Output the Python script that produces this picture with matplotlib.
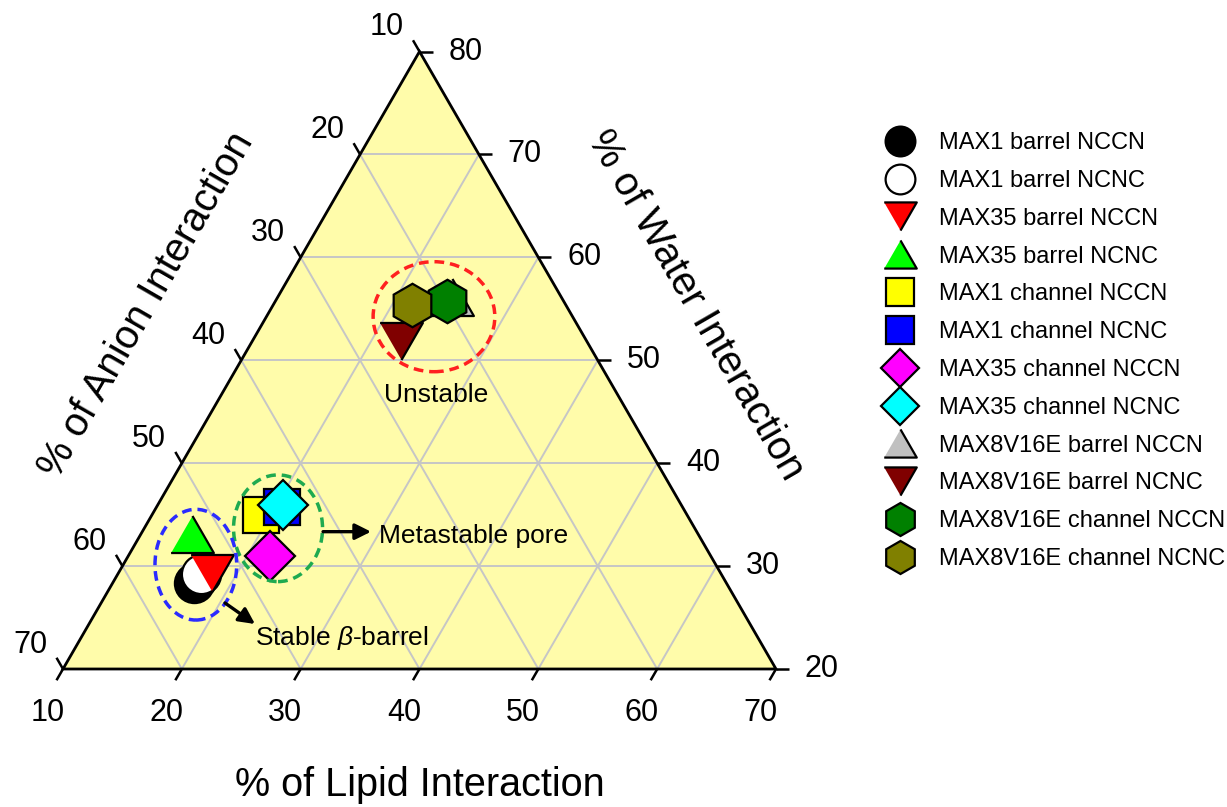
import numpy as np
import matplotlib
matplotlib.use("Agg")
import matplotlib.pyplot as plt
from matplotlib.patches import Polygon, Ellipse

plt.rcParams['font.family'] = ['Liberation Sans', 'DejaVu Sans']
plt.rcParams['mathtext.fontset'] = 'custom'
plt.rcParams['mathtext.rm'] = 'Liberation Sans'
plt.rcParams['mathtext.it'] = 'Liberation Sans:italic'

# ---- data: percentages of lipid / anion / water interaction ----
series = ["MAX1 barrel NCCN", "MAX1 barrel NCNC",
          "MAX35 barrel NCCN", "MAX35 barrel NCNC",
          "MAX1 channel NCCN", "MAX1 channel NCNC",
          "MAX35 channel NCCN", "MAX35 channel NCNC",
          "MAX8V16E barrel NCCN", "MAX8V16E barrel NCNC",
          "MAX8V16E channel NCCN", "MAX8V16E channel NCNC"]
lipid = [16.8, 17.0, 17.9, 14.3, 19.2, 20.6, 21.9, 20.6, 24.7, 22.5, 24.4, 21.7]
anion = [54.8, 53.8, 52.8, 52.6, 45.8, 43.7, 47.1, 43.5, 19.2, 25.6, 19.8, 22.9]
water = [28.4, 29.2, 29.3, 33.1, 35.0, 35.7, 31.0, 35.9, 56.1, 51.9, 55.8, 55.4]

# axis ranges (each spans 60 %)
lipid_ticks = [10, 20, 30, 40, 50, 60, 70]
anion_ticks = [10, 20, 30, 40, 50, 60, 70]
water_ticks = [80, 70, 60, 50, 40, 30, 20]
LIP0, ANI0, WAT0, SPAN = 10, 10, 20, 60

# ---- styles ----
tri_up = [(-1, -0.866), (1, -0.866), (0, 0.866)]
tri_dn = [(-1, 0.866), (1, 0.866), (0, -0.866)]
markers = ['o', 'o', tri_dn, tri_up, 's', 's', 'D', 'D', tri_up, tri_dn, 'h', 'h']
colors = ['black', 'white', '#ff0000', '#00ff00', '#ffff00', '#0000ff',
          '#ff00ff', '#00ffff', '#c0c0c0', '#800000', '#008000', '#808000']
sizes = [28.2, 28.2, 30.8, 30.8, 26.3, 26.3, 25, 25, 30.8, 30.8, 31.3, 31.3]

H = np.sqrt(3) / 2


def tern(l, a, w):
    """Ternary (lipid, anion, water) -> cartesian in a unit triangle."""
    fa = (np.asarray(l, float) - LIP0) / SPAN
    fb = (np.asarray(a, float) - ANI0) / SPAN
    fc = (np.asarray(w, float) - WAT0) / SPAN
    s = fa + fb + fc
    return (fa + 0.5 * fc) / s, H * fc / s


fig = plt.figure(figsize=(12.27, 8.07), dpi=100)
ax = fig.add_axes([0, 0, 1, 1])
ax.set_xlim(-63 / 713, 1164 / 713)
ax.set_ylim(-138 / 713, 669 / 713)
ax.axis('off')

# background triangle
ax.add_patch(Polygon([(0, 0), (1, 0), (0.5, H)], closed=True,
                     facecolor='#fffcaa', edgecolor='none', zorder=0))

# grid
gkw = dict(color='#c6c6c6', lw=1.4, zorder=1)
for v in lipid_ticks[1:-1]:
    x0, y0 = tern(v, 100 - v - WAT0, WAT0)
    x1, y1 = tern(v, ANI0, 100 - v - ANI0)
    ax.plot([x0, x1], [y0, y1], **gkw)
for v in anion_ticks[1:-1]:
    x0, y0 = tern(100 - v - WAT0, v, WAT0)
    x1, y1 = tern(LIP0, v, 100 - v - LIP0)
    ax.plot([x0, x1], [y0, y1], **gkw)
for v in water_ticks[1:-1]:
    x0, y0 = tern(LIP0, 100 - v - LIP0, v)
    x1, y1 = tern(100 - v - ANI0, ANI0, v)
    ax.plot([x0, x1], [y0, y1], **gkw)

# outline
ax.add_patch(Polygon([(0, 0), (1, 0), (0.5, H)], closed=True,
                     facecolor='none', edgecolor='black', lw=2.0, zorder=3))

# ticks and tick labels
TL = 13 / 713
tkw = dict(color='black', lw=1.8, zorder=3, solid_capstyle='butt')
lab_kw = dict(textcoords='offset points', ha='center', va='center', fontsize=22)
for v in lipid_ticks:
    x, y = tern(v, 100 - v - WAT0, WAT0)
    ax.plot([x, x - 0.5 * TL], [y, y - H * TL], **tkw)
    ax.annotate(str(v), (x, y), xytext=(-11, -31.7), **lab_kw)
for v in anion_ticks:
    x, y = tern(LIP0, v, 100 - v - LIP0)
    ax.plot([x, x - 0.5 * TL], [y, y + H * TL], **tkw)
    ax.annotate(str(v), (x, y), xytext=(-23.8, 17.5), **lab_kw)
for v in water_ticks:
    x, y = tern(100 - v - ANI0, ANI0, v)
    ax.plot([x, x + TL], [y, y], **tkw)
    ax.annotate(str(v), (x, y), xytext=(33.0, 0), **lab_kw)

# axis titles
ax.text(0.5007, -0.1627, "% of Lipid Interaction", fontsize=28.5,
        ha='center', va='center')
ax.text(0.117, 0.5105, "% of Anion Interaction", fontsize=29,
        ha='center', va='center', rotation=60, rotation_mode='anchor')
ax.text(0.888, 0.5105, "% of Water Interaction", fontsize=29,
        ha='center', va='center', rotation=-60, rotation_mode='anchor')

# data points
X, Y = tern(lipid, anion, water)
for i, name in enumerate(series):
    ax.plot(X[i], Y[i], linestyle='none', marker=markers[i], ms=sizes[i],
            mfc=colors[i], mec='black', mew=1.6, label=name, zorder=5 + i)

# cluster outlines
dash = (0, (2.8, 1.7))
elw = 2.5
ax.add_patch(Ellipse((0.5203, 0.4941), 121.7 / 713, 110 / 713, fill=False,
                     edgecolor='#ff2020', lw=elw, linestyle=dash, zorder=20))
ax.add_patch(Ellipse((0.3016, 0.1974), 89 / 713, 106.7 / 713, fill=False,
                     edgecolor='#1eaa50', lw=elw, linestyle=dash, zorder=20))
ax.add_patch(Ellipse((0.1863, 0.1463), 81.7 / 713, 110.7 / 713, fill=False,
                     edgecolor='#2b2bff', lw=elw, linestyle=dash, zorder=20))

# annotations
akw = dict(arrowstyle='-|>', color='black', lw=2.4, mutation_scale=24,
           shrinkA=0, shrinkB=0)
ax.text(0.5231, 0.3843, "Unstable", fontsize=19, ha='center', va='center',
        zorder=21)
ax.annotate('', xy=(0.432, 0.1926), xytext=(0.3647, 0.1926), arrowprops=akw,
            zorder=21)
ax.text(0.4432, 0.1763, "Metastable pore", fontsize=19, ha='left',
        va='baseline', zorder=21)
ax.annotate('', xy=(0.2693, 0.0631), xytext=(0.2272, 0.0926), arrowprops=akw,
            zorder=21)
ax.text(0.2693, 0.0337, r"Stable $\beta$-barrel", fontsize=19, ha='left',
        va='baseline', zorder=21)

# legend
ax.legend(loc='upper left', bbox_to_anchor=(0.7241, 0.8363), frameon=False,
          fontsize=17, markerscale=0.76, handlelength=1.0,
          handletextpad=1.12, labelspacing=0.67, borderpad=0,
          borderaxespad=0, numpoints=1)

fig.savefig("out.png", dpi=100)
